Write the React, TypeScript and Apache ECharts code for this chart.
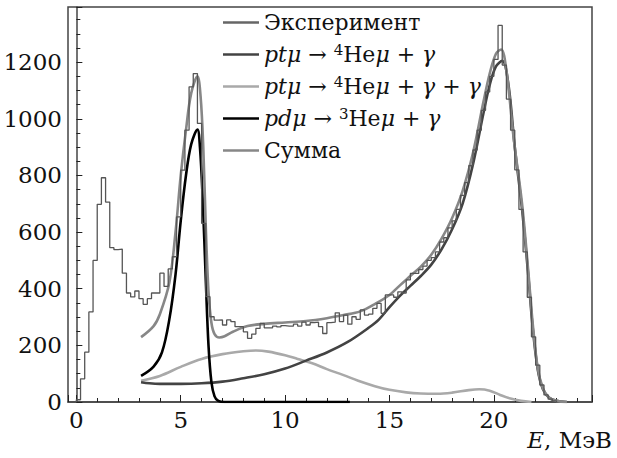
import React, { useEffect, useRef } from "react";
import * as echarts from "echarts";

const FONT = "DejaVu Serif";

// Experimental histogram: 0.2 MeV bins starting at 0 MeV
const BIN_START = 0;
const BIN_WIDTH = 0.2;
const expCounts = [
  8, 82, 176, 318, 500, 698, 792, 706, 545, 538, 540, 455, 385, 371, 392, 365, 345, 365, 385, 385, 455, 408,
  470, 513, 654, 819, 960, 1113, 1160, 984,
  631, 372, 301, 289, 290, 272, 290, 284, 266, 266,
  248, 225, 240, 260, 278, 262, 262, 268, 265, 270,
  268, 268, 275, 268, 282, 272, 280, 282, 266, 242,
  280, 282, 315, 284, 307, 275, 301, 292, 325, 307,
  310, 331, 348, 313, 378, 378, 370, 389, 385, 431,
  454, 454, 468, 480, 500, 510, 530, 565, 580, 615,
  640, 680, 730, 775, 835, 890, 960, 1030, 1095, 1150,
  1210, 1330, 1190, 1070, 960, 820, 680, 530, 370, 230,
  130, 60, 25, 10, 4,
];

// pt mu -> 4He mu + gamma
const pt1E = [3.1, 3.5, 4, 5, 6, 7, 8, 9, 10, 11, 12, 13, 14, 14.5, 15, 15.5, 16, 16.5, 17, 17.5, 18, 18.5, 19, 19.5, 19.8, 20.1, 20.4, 20.7, 21.0, 21.35, 21.65, 21.85, 22.1, 22.35, 22.65, 23.0, 23.5];
const pt1V = [70, 66, 64, 64, 66, 72, 84, 98, 118, 146, 175, 212, 262, 292, 335, 375, 410, 445, 485, 540, 610, 700, 840, 1020, 1120, 1185, 1205, 1120, 900, 680, 445, 270, 115, 45, 15, 4, 0];

// pt mu -> 4He mu + gamma + gamma
const pt2E = [3.1, 4, 5, 6, 7, 8, 8.6, 9.2, 10, 10.6, 11.3, 12, 12.8, 13.5, 14.3, 15, 15.8, 16.5, 17.3, 18, 18.8, 19.3, 19.8, 20.3, 20.8, 21.3, 21.8];
const pt2V = [75, 92, 124, 152, 169, 179, 182, 178, 165, 152, 137, 116, 95, 75, 56, 43, 34, 30, 29, 33, 42, 45, 40, 25, 12, 4, 0];

// pd mu -> 3He mu + gamma
const pdE = [3.1, 3.7, 4.1, 4.45, 4.75, 5.0, 5.25, 5.5, 5.8, 5.92, 6.05, 6.2, 6.33, 6.47, 6.62, 6.8, 7.1, 13.1];
const pdV = [92, 125, 175, 290, 450, 640, 800, 910, 962, 900, 720, 430, 200, 70, 20, 4, 0, 0];

// Sum
const sumE = [3.1, 3.7, 4.0, 4.45, 4.75, 5.0, 5.25, 5.5, 5.8, 5.95, 6.08, 6.2, 6.33, 6.47, 6.62, 6.85, 7.1, 7.5, 8.2, 9, 10, 11, 12, 12.8, 13.6, 14.3, 15, 15.5, 16, 16.5, 17, 17.5, 18, 18.5, 19, 19.5, 19.8, 20.1, 20.35, 20.6, 20.95, 21.35, 21.65, 21.85, 22.1, 22.35, 22.65, 23.0, 23.5];
const sumV = [229, 268, 310, 420, 600, 800, 960, 1090, 1150, 1080, 900, 620, 390, 280, 240, 228, 232, 248, 268, 276, 281, 286, 296, 307, 320, 346, 378, 412, 445, 478, 520, 578, 650, 745, 880, 1060, 1160, 1230, 1245, 1170, 930, 700, 460, 285, 120, 48, 15, 4, 0];

const N_EXP = "Эксперимент";
const N_PT1 = "ptμ → 4Heμ + γ";
const N_PT2 = "ptμ → 4Heμ + γ + γ";
const N_PD = "pdμ → 3Heμ + γ";
const N_SUM = "Сумма";

const legendRich: Record<string, string> = {
  [N_EXP]: "{n|Эксперимент}",
  [N_PT1]: "{i|ptμ}{n| → }{s|4}{n|He}{i|μ}{n| + }{i|γ}",
  [N_PT2]: "{i|ptμ}{n| → }{s|4}{n|He}{i|μ}{n| + }{i|γ}{n| + }{i|γ}",
  [N_PD]: "{i|pdμ}{n| → }{s|3}{n|He}{i|μ}{n| + }{i|γ}",
  [N_SUM]: "{n|Сумма}",
};

const pairs = (xs: number[], ys: number[]) => xs.map((x, i) => [x, ys[i]]);

function histPoints() {
  const pts: number[][] = [[BIN_START, 0]];
  expCounts.forEach((v, i) => pts.push([+(BIN_START + i * BIN_WIDTH).toFixed(2), v]));
  pts.push([+(BIN_START + expCounts.length * BIN_WIDTH).toFixed(2), 0]);
  return pts;
}

export default function App() {
  const ref = useRef<HTMLDivElement>(null);
  useEffect(() => {
    const chart = echarts.init(ref.current!, null, { renderer: "svg" });
    const curve = (name: string, xs: number[], ys: number[], color: string, z: number) => ({
      name,
      type: "line",
      data: pairs(xs, ys),
      smooth: 0.35,
      symbol: "none",
      showSymbol: false,
      z,
      lineStyle: { color, width: 2.6 },
      itemStyle: { color },
    });
    const FS = 23;
    const LFS = 22;
    const txt = { fontFamily: FONT, fontSize: FS, color: "#111" };
    chart.setOption({
      animation: false,
      backgroundColor: "#fff",
      textStyle: { fontFamily: FONT, fontSize: FS },
      grid: {
        left: 68, right: 25, top: 7, bottom: 56,
        containLabel: false,
        outerBoundsMode: "none",
        show: true, borderColor: "#444", borderWidth: 1.5, backgroundColor: "transparent",
      },
      legend: {
        orient: "vertical",
        left: 218,
        top: 5,
        itemWidth: 36,
        itemHeight: 2.6,
        itemGap: 7,
        icon: "rect",
        data: [N_EXP, N_PT1, N_PT2, N_PD, N_SUM],
        formatter: (n: string) => legendRich[n] ?? n,
        textStyle: {
          fontFamily: FONT,
          fontSize: LFS,
          color: "#111",
          lineHeight: 25,
          rich: {
            n: { fontFamily: FONT, fontSize: LFS, color: "#111", lineHeight: 25 },
            i: { fontFamily: FONT, fontSize: LFS, fontStyle: "italic", color: "#111", lineHeight: 25 },
            s: { fontFamily: FONT, fontSize: 15, color: "#111", verticalAlign: "top", lineHeight: 12 },
          },
        },
      },
      xAxis: {
        type: "value",
        min: -0.4,
        max: 24.7,
        splitNumber: 5,
        name: "{i|E}{n|, МэВ}",
        nameLocation: "end",
        nameGap: 20,
        nameTextStyle: {
          ...txt,
          align: "right",
          verticalAlign: "top",
          padding: [26, 0, 0, 0],
          rich: {
            i: { ...txt, fontStyle: "italic" },
            n: { ...txt },
          },
        },
        axisLine: { show: true, lineStyle: { color: "#444", width: 1.5 } },
        axisTick: { show: true, inside: true, length: 7, lineStyle: { color: "#222", width: 1 } },
        minorTick: { show: true, splitNumber: 5, length: 4, lineStyle: { color: "#222", width: 1 } },
        splitLine: { show: false },
        axisLabel: {
          ...txt, margin: 6,
          showMinLabel: false, showMaxLabel: false,
          formatter: (v: number) => String(v),
        },
      },
      yAxis: {
        type: "value",
        min: 0,
        max: 1395,
        splitNumber: 7,
        axisLine: { show: true, lineStyle: { color: "#444", width: 1.5 } },
        axisTick: { show: true, inside: true, length: 6, lineStyle: { color: "#222", width: 1 } },
        minorTick: { show: true, splitNumber: 4, length: 4, lineStyle: { color: "#222", width: 1 } },
        splitLine: { show: false },
        axisLabel: {
          ...txt, margin: 6, showMaxLabel: false,
          formatter: (v: number) => String(v),
        },
      },
      series: [
        curve(N_PT2, pt2E, pt2V, "#a9a9a9", 2),
        curve(N_PT1, pt1E, pt1V, "#434343", 3),
        curve(N_PD, pdE, pdV, "#000000", 4),
        curve(N_SUM, sumE, sumV, "#878787", 5),
        {
          name: N_EXP,
          type: "line",
          data: histPoints(),
          step: "end",
          symbol: "none",
          showSymbol: false,
          z: 6,
          lineStyle: { color: "#555", width: 1.3 },
          itemStyle: { color: "#666" },
        },
      ],
    });
    return () => chart.dispose();
  }, []);
  return (
    <div
      ref={ref}
      style={{ position: "fixed", left: 0, top: 0, width: 617, height: 458, background: "#fff" }}
    />
  );
}
